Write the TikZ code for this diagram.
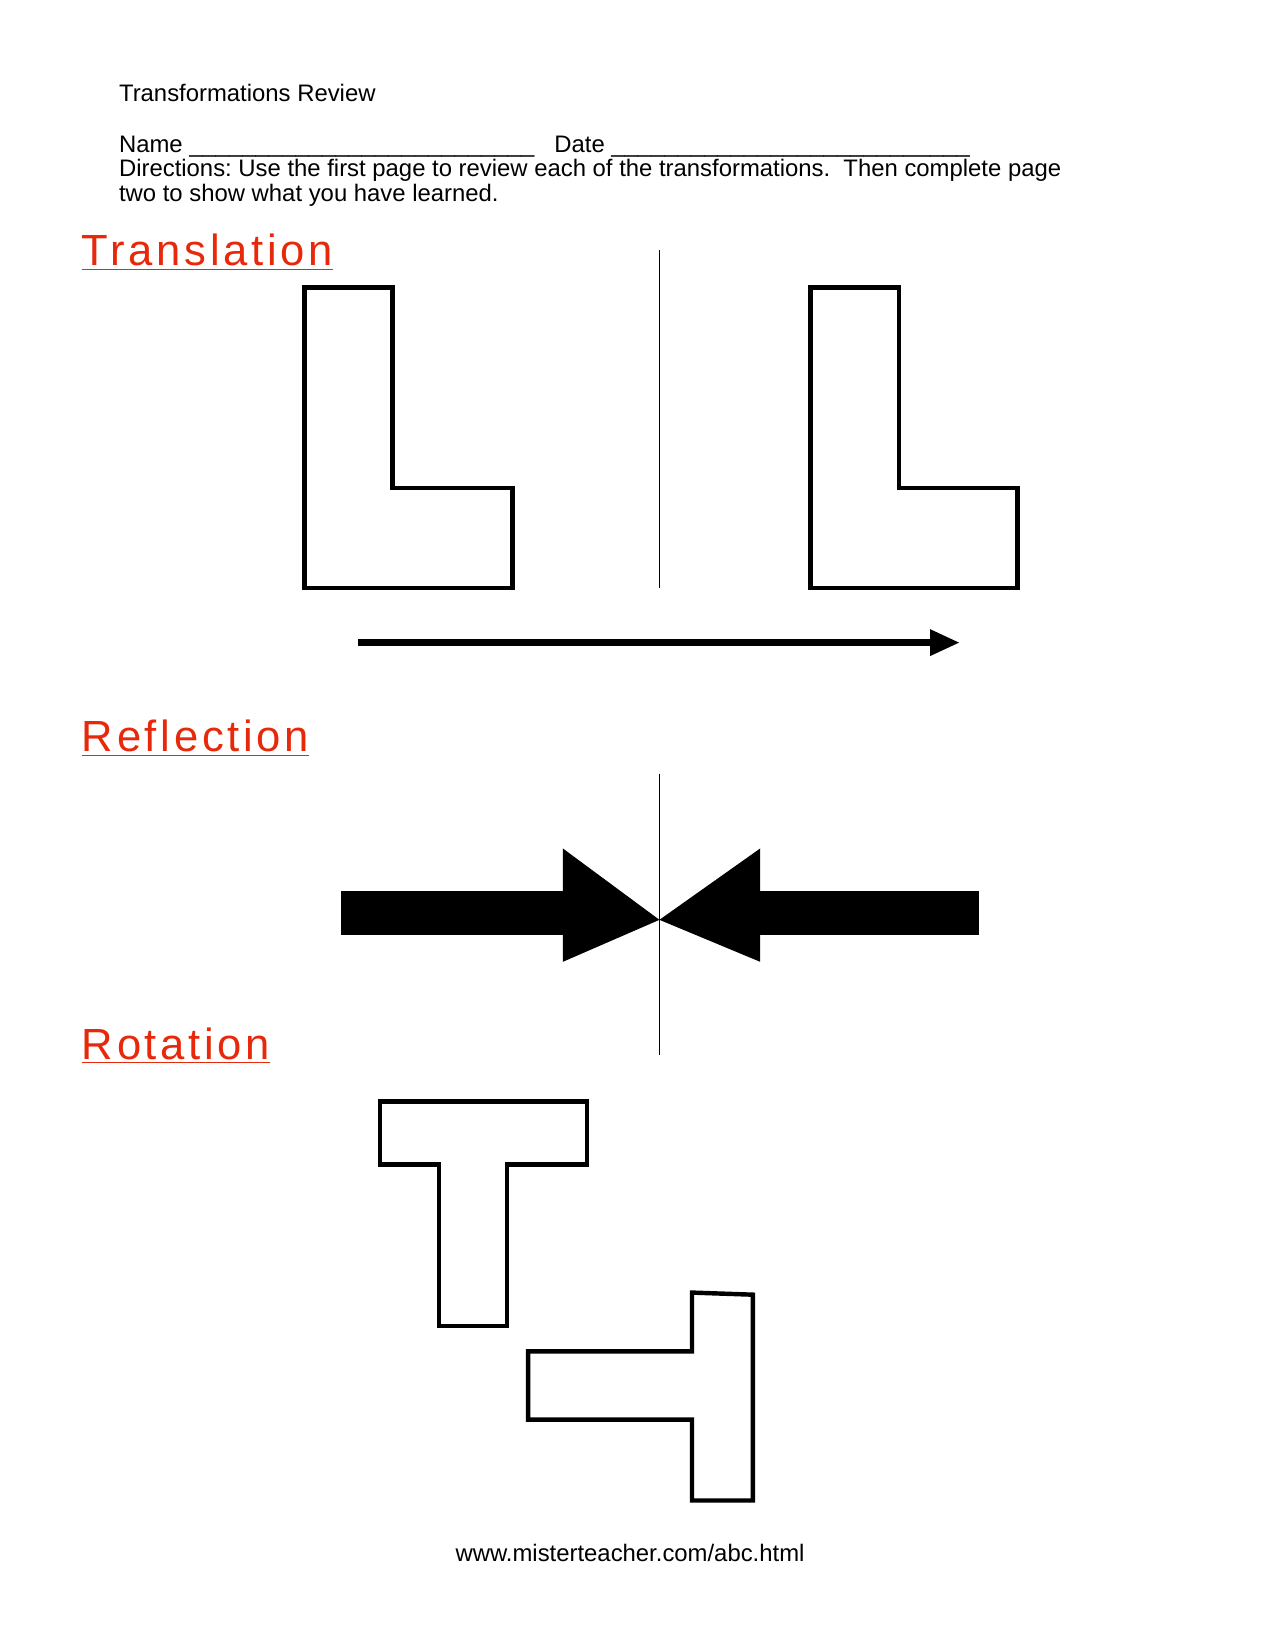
\documentclass[tikz,border=0pt]{standalone}
\usepackage{fontspec}
\setmainfont{Liberation Sans}
\usetikzlibrary{arrows.meta}
\definecolor{headred}{RGB}{232,40,10}
\frenchspacing
\tikzset{
		outline/.style={black, line width=0.75mm, line join=miter},
		axis/.style={black, line width=0.3mm},
		header/.style={anchor=base west, text=headred, font=\fontsize{21}{24}\selectfont\addfontfeature{LetterSpace=8.5}},
		plain/.style={anchor=base west, inner sep=0pt, font=\fontsize{11.5}{13}\selectfont}
	}
\begin{document}
\begin{tikzpicture}[x=0.01778cm, y=-0.01778cm]

\useasboundingbox (0,0) rectangle (1214.3,1571.4);

\node (title) at (113,97) [plain] {Transformations Review};
\node (name) at (113,145) [plain] {Name \_\_\_\_\_\_\_\_\_\_\_\_\_\_\_\_\_\_\_\_\_\_\_\_\_\_\ \ \ Date \_\_\_\_\_\_\_\_\_\_\_\_\_\_\_\_\_\_\_\_\_\_\_\_\_\_\_};
\node (dir1) at (113,168) [plain] {Directions: Use the first page to review each of the transformations.\ \ Then complete page};
\node (dir2) at (113,192) [plain] {two to show what you have learned.};

\node (trans) at (71,253) [header] {\underline{Translation}};
\node (refl) at (71,716) [header] {\underline{Reflection}};
\node (rot) at (71,1009) [header] {\underline{Rotation}};

\draw [outline] (290,274) -- (374,274) -- (374,465) -- (488,465) -- (488,560) -- (290,560) -- cycle;
\draw [outline] (772,274) -- (856,274) -- (856,465) -- (969,465) -- (969,560) -- (772,560) -- cycle;
\draw [axis] (628,238) -- (628,560);
\draw [line width=1.1mm, -{Triangle[length=0.5cm, width=0.42cm]}] (341,612) -- (914,612);

\draw [axis] (628,737) -- (628,1005);
\fill (325,849) rectangle (536,890);
\fill (536,808) -- (628,876) -- (536,916) -- cycle;
\fill (724,849) rectangle (932,890);
\fill (724,808) -- (628,876) -- (724,916) -- cycle;

\draw [outline] (362,1049) -- (559,1049) -- (559,1109) -- (483,1109) -- (483,1263) -- (418,1263) -- (418,1109) -- (362,1109) -- cycle;
\draw [outline] (659,1231) -- (717,1233) -- (717,1429) -- (659,1429) -- (659,1352) -- (503,1352) -- (503,1287) -- (659,1287) -- cycle;

\node (url) at (600,1487) [plain, anchor=base] {www.misterteacher.com/abc.html};

\end{tikzpicture}
\end{document}
